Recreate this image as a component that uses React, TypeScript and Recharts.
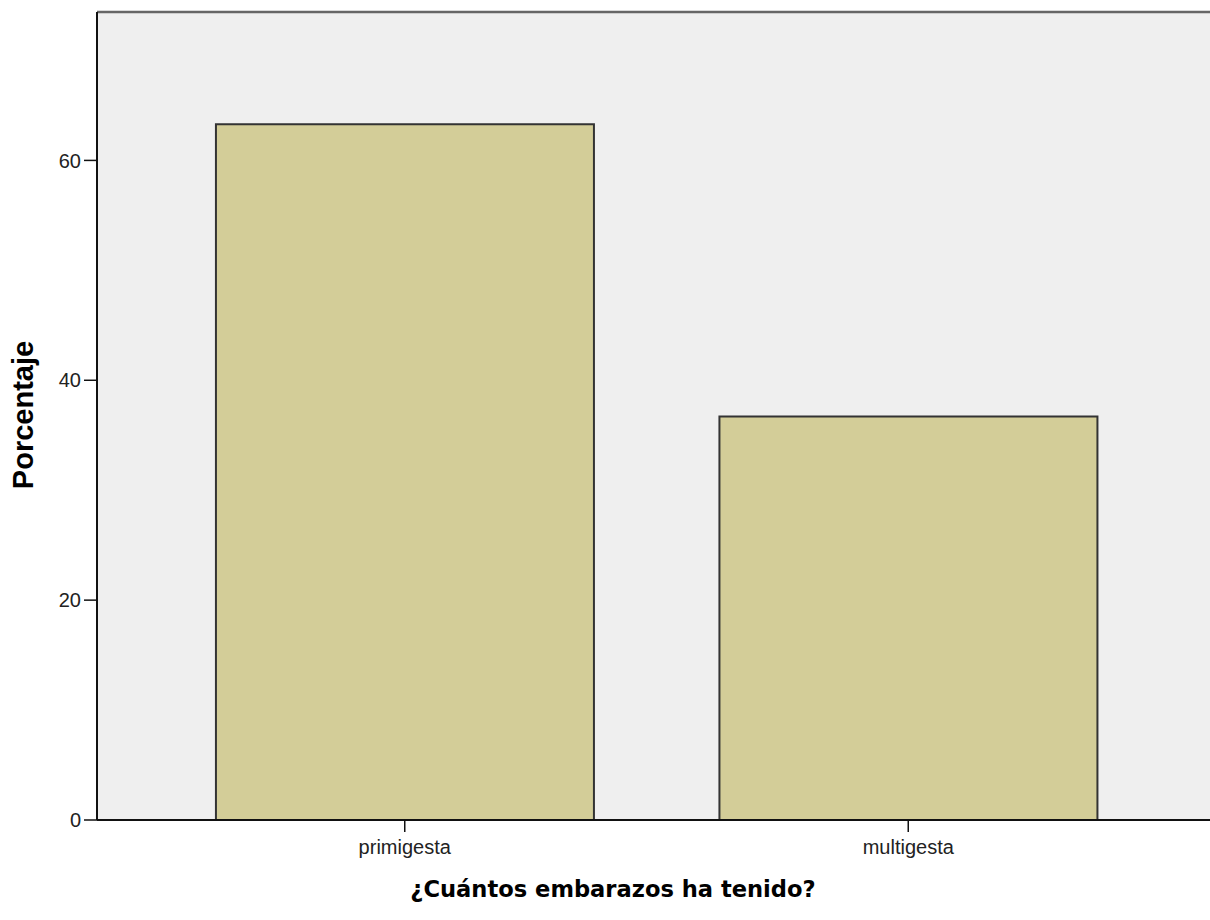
import React from 'react';
import { BarChart, Bar, XAxis, YAxis, CartesianGrid, ReferenceLine } from 'recharts';

const categories = ['primigesta', 'multigesta'];
const percentages = [63.3, 36.7];
const yTicks = [0, 20, 40, 60];
const yMax = 73.5;
const xTitle = '¿Cuántos embarazos ha tenido?';
const yTitle = 'Porcentaje';

const data = categories.map((c, i) => ({ name: c, value: percentages[i] }));

const tickFont = { fontFamily: '"Liberation Sans", Arial, sans-serif', fontSize: 20, fill: '#222' };

export default function App() {
  return (
    <div style={{ position: 'absolute', left: 0, top: 0, width: 1210, height: 920, overflow: 'hidden', background: '#fff' }}>
      <BarChart
        width={1220}
        height={920}
        data={data}
        margin={{ top: 12, right: 4, bottom: 0, left: 0 }}
        barCategoryGap="12.5%"
      >
        <CartesianGrid horizontal={false} vertical={false} fill="#EFEFEF" />
        <XAxis
          dataKey="name"
          height={100}
          padding={{ left: 56, right: 56 }}
          axisLine={{ stroke: '#111', strokeWidth: 2 }}
          tickLine={{ stroke: '#111', strokeWidth: 1.5 }}
          tickSize={12}
          tickMargin={8}
          tick={tickFont}
          label={{
            content: () => (
              <text
                x={613}
                y={897}
                textAnchor="middle"
                style={{ fontFamily: '"DejaVu Sans", sans-serif', fontWeight: 900, fontSize: 22.6, fill: '#000' }}
              >
                {xTitle}
              </text>
            ),
          }}
        />
        <YAxis
          width={97}
          domain={[0, yMax]}
          ticks={yTicks}
          allowDataOverflow
          axisLine={{ stroke: '#111', strokeWidth: 2 }}
          tickLine={{ stroke: '#111', strokeWidth: 1.5 }}
          tickSize={13}
          tickMargin={3}
          tick={tickFont}
          label={{
            content: () => (
              <text
                x={33}
                y={415}
                textAnchor="middle"
                transform="rotate(-90 33 415)"
                style={{ fontFamily: '"Liberation Sans", Arial, sans-serif', fontWeight: 700, fontSize: 29, fill: '#000' }}
              >
                {yTitle}
              </text>
            ),
          }}
        />
        <ReferenceLine y={yMax} stroke="#666" strokeWidth={2.5} ifOverflow="extendDomain" />
        <Bar dataKey="value" fill="#D3CD98" stroke="#333" strokeWidth={2} isAnimationActive={false} />
      </BarChart>
    </div>
  );
}
